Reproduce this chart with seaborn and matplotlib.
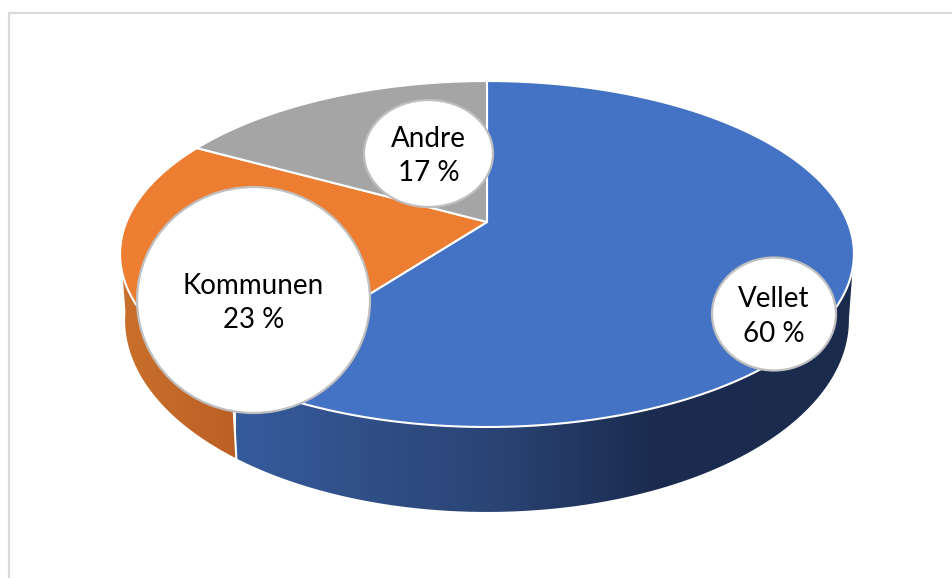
import numpy as np
import matplotlib
matplotlib.use("Agg")
import matplotlib.pyplot as plt
import seaborn as sns
from matplotlib.colors import LinearSegmentedColormap
from matplotlib.patches import Ellipse, Polygon

# Data, clockwise from 12 o'clock (slice sizes, labels are rounded)
labels = ["Vellet", "Kommunen", "Andre"]
shares = [60.3, 22.7, 17.0]
value_text = ["60 %", "23 %", "17 %"]

# Styling
top_colors = sns.color_palette(["#4472c4", "#ed7d31", "#a5a5a5"])
bubble_centres = [(774, 314), (253.5, 300), (428.5, 153.5)]
bubble_radii = [(62, 56.5), (116.5, 113), (64.5, 53.5)]
label_base = [307, 294, 147]
value_base = [342, 328, 181]

# Perspective of the disc: apex height, depth and foreshortening
CX = 487
TOP = dict(y0=222, b=-126, a=360.6, k=0.185)
BOTTOM = dict(y0=285.4, b=-134.4, a=356, k=0.18)


def project(t, p):
    x, y = np.sin(t), np.cos(t)
    d = 1 + p["k"] * y
    return np.column_stack([CX + p["a"] * x / d, (p["y0"] + p["b"] * y) / d])


def wall(ax, t0, t1, stops, xmin, xmax):
    ts = np.linspace(t0, t1, 200)
    pts = np.vstack([project(ts, TOP), project(ts[::-1], BOTTOM)])
    poly = Polygon(pts, closed=True, fc="none", ec="none", transform=ax.transData)
    ax.add_patch(poly)
    cmap = LinearSegmentedColormap.from_list("side", stops)
    im = ax.imshow(np.linspace(0, 1, 256)[None, :], cmap=cmap, aspect="auto",
                   extent=(xmin, xmax, 578, 0), zorder=1)
    im.set_clip_path(poly)


sns.set_theme(style="white")
plt.rcParams["font.family"] = ["Lato", "DejaVu Sans"]

fig = plt.figure(figsize=(9.52, 5.78), dpi=100)
ax = fig.add_axes([0, 0, 1, 1])

# chart frame, cut off by the right and bottom edge of the picture
ax.plot([8.5, 8.5, 952], [578, 12.5, 12.5], color="#d9d9d9", lw=1.6, zorder=0)

edges = 2 * np.pi * np.cumsum([0] + shares) / sum(shares)

# side walls (only the front of the disc shows)
seam = edges[1]
wall(ax, np.radians(100), seam,
     [(0, "#365b9c"), (0.43, "#2a4373"), (0.67, "#1b2c50"), (1, "#1a2b4e")], 236, 854)
wall(ax, seam, np.radians(262), [(0, "#c9702c"), (1, "#bc6025")], 120, 236)
ax.plot(*np.vstack([project(np.array([seam]), TOP), project(np.array([seam]), BOTTOM)]).T,
        color="white", lw=1.5, zorder=2)

# top of the disc
apex = np.array([[CX, TOP["y0"]]])
for i, color in enumerate(top_colors):
    ts = np.linspace(edges[i], edges[i + 1], 300)
    ax.add_patch(Polygon(np.vstack([apex, project(ts, TOP)]), closed=True, fc=color,
                         ec="white", lw=1.5, joinstyle="round", zorder=3))

# data labels
for name, val, (cx, cy), (rx, ry), ly, vy in zip(labels, value_text, bubble_centres,
                                                 bubble_radii, label_base, value_base):
    ax.add_patch(Ellipse((cx, cy), 2 * rx, 2 * ry, fc="white", ec="#bfbfbf", lw=1.6, zorder=4))
    ax.text(cx, ly, name, ha="center", va="baseline", fontsize=20, color="black", zorder=5)
    ax.text(cx, vy, val, ha="center", va="baseline", fontsize=20, color="black", zorder=5)

ax.set_xlim(0, 952)
ax.set_ylim(578, 0)
ax.axis("off")
fig.savefig("out.png", dpi=100, facecolor="white")
